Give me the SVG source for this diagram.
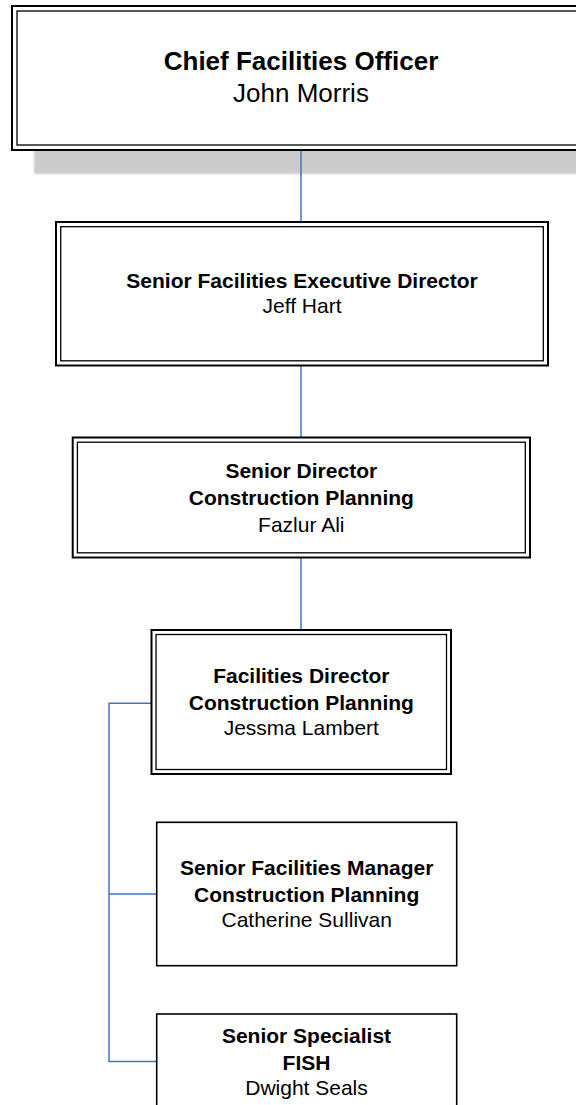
<svg xmlns="http://www.w3.org/2000/svg" width="576" height="1105" viewBox="0 0 576 1105">
<style>
.outer{fill:#fff;stroke:#000;stroke-width:2}
.inner{fill:none;stroke:#000;stroke-width:1.3}
.single{fill:#fff;stroke:#000;stroke-width:1.6}
.t{font-family:"Liberation Sans",Arial,sans-serif;fill:#000;text-anchor:middle}
.b{font-weight:bold;font-size:21px}
.r{font-size:21px}
.b1{font-weight:bold;font-size:26px}
.r1{font-size:26px}
.conn{fill:none;stroke:#4472C4;stroke-width:1.5}
</style>
<defs>
<filter id="blur" x="-5%" y="-5%" width="110%" height="110%"><feGaussianBlur stdDeviation="1"/></filter>
</defs>
<rect width="576" height="1105" fill="#fff"/>
<g id="n1">
<rect x="34" y="30" width="580" height="144" fill="#ccc" filter="url(#blur)"/>
<rect class="outer" x="12" y="6" width="590" height="144"/>
<rect class="inner" x="17" y="11" width="580" height="134"/>
<text class="t b1" x="301" y="70">Chief Facilities Officer</text>
<text class="t r1" x="301" y="101.7">John Morris</text>
</g>
<g id="connectors">
<line class="conn" x1="301" y1="151" x2="301" y2="222"/>
<line class="conn" x1="301" y1="365" x2="301" y2="437.5"/>
<line class="conn" x1="301" y1="557.5" x2="301" y2="630"/>
<polyline class="conn" points="151.5,703.3 109,703.3 109,1061.5 156.7,1061.5"/>
<line class="conn" x1="109" y1="894" x2="156.7" y2="894"/>
</g>
<g id="n2">
<rect class="outer" x="56" y="222" width="492" height="143.5"/>
<rect class="inner" x="60.7" y="226.7" width="482.6" height="134.1"/>
<text class="t b" x="302" y="288">Senior Facilities Executive Director</text>
<text class="t r" x="302" y="313">Jeff Hart</text>
</g>
<g id="n3">
<rect class="outer" x="72.7" y="437.5" width="457.3" height="120"/>
<rect class="inner" x="77.4" y="442.2" width="447.9" height="110.6"/>
<text class="t b" x="301.3" y="478">Senior Director</text>
<text class="t b" x="301.3" y="505">Construction Planning</text>
<text class="t r" x="301.3" y="531.7">Fazlur Ali</text>
</g>
<g id="n4">
<rect class="outer" x="151.5" y="630" width="299.5" height="144"/>
<rect class="inner" x="156" y="634.5" width="290.5" height="135"/>
<text class="t b" x="301.3" y="683.3">Facilities Director</text>
<text class="t b" x="301.3" y="710">Construction Planning</text>
<text class="t r" x="301.3" y="735">Jessma Lambert</text>
</g>
<g id="n5">
<rect class="single" x="156.7" y="822.3" width="300" height="143.4"/>
<text class="t b" x="306.7" y="875">Senior Facilities Manager</text>
<text class="t b" x="306.7" y="901.7">Construction Planning</text>
<text class="t r" x="306.7" y="926.7">Catherine Sullivan</text>
</g>
<g id="n6">
<rect class="single" x="156.7" y="1014" width="300" height="120"/>
<text class="t b" x="306.5" y="1043.3">Senior Specialist</text>
<text class="t b" x="306.5" y="1070">FISH</text>
<text class="t r" x="306.5" y="1095">Dwight Seals</text>
</g>
</svg>
